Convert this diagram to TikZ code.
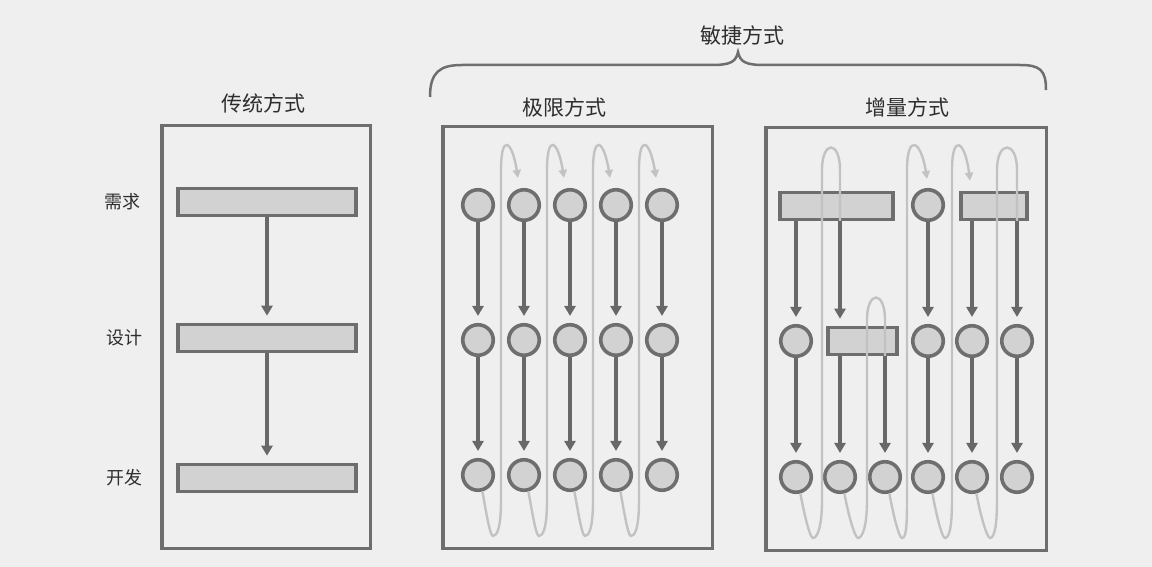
\documentclass[tikz,border=0pt]{standalone}
\usepackage{fontspec}
\setmainfont{Noto Sans CJK SC}
\usetikzlibrary{arrows.meta,calc}
\definecolor{bg}{HTML}{EFEFEF}
\definecolor{framec}{HTML}{6E6E6E}
\definecolor{shade}{HTML}{D2D2D2}
\definecolor{arrowc}{HTML}{686868}
\definecolor{loopc}{HTML}{C2C2C2}
\definecolor{txt}{HTML}{2E2E2E}
\begin{document}
\begin{tikzpicture}[x=1pt,y=-1pt,
  panel/.style={draw=framec, line width=3.5pt, inner sep=0pt},
  bar/.style={draw=framec, line width=3.6pt, fill=shade, inner sep=0pt, minimum height=27pt},
  dot/.style={circle, draw=framec, line width=3.6pt, fill=shade, inner sep=0pt, minimum size=30.5pt},
  flow/.style={draw=arrowc, line width=3.2pt, -{Triangle[width=11pt,length=10pt]}, shorten >=7pt},
  back/.style={draw=loopc, line width=2.4pt},
  backarr/.style={back, -{Triangle[width=8pt,length=8pt]}},
  brace/.style={draw=framec, line width=2.5pt},
  title/.style={text=txt, inner sep=0pt, font=\fontsize{21}{24}\selectfont},
  lab/.style={text=txt, inner sep=0pt, font=\fontsize{18}{20}\selectfont}]

\fill[bg] (0,0) rectangle (1152,567);
\useasboundingbox (0,0) rectangle (1152,567);

% ---------- brace and agile title ----------
\coordinate (bt) at (738,52);
\draw[brace] (430,97) .. controls (430,72) and (440,65) .. (462,65) -- (712,65)
  .. controls (730,65) and (736,62) .. (bt)
  .. controls (740,62) and (746,65) .. (764,65) -- (1020,65)
  .. controls (1040,65) and (1046,70) .. (1046,90);
\node[title] (tAgile) at (742,36) {敏捷方式};

% ---------- panels ----------
\node[panel, minimum width=208.5pt, minimum height=422.5pt] (PL) at (266,337) {};
\node[panel, minimum width=269.5pt, minimum height=421.5pt] (PM) at (577.5,337.5) {};
\node[panel, minimum width=280.5pt, minimum height=422.5pt] (PR) at (906,339) {};
\node[title] (tL) at (263,103) {传统方式};
\node[title] (tM) at (564,107) {极限方式};
\node[title] (tR) at (907,107) {增量方式};

% ---------- traditional ----------
\node[bar, minimum width=177.5pt] (L1) at (267,202) {};
\node[bar, minimum width=177.5pt] (L2) at (267,338) {};
\node[bar, minimum width=177.5pt] (L3) at (267,478) {};
\node[lab] (lReq) at (122,202) {需求};
\node[lab] (lDes) at (124,338) {设计};
\node[lab] (lDev) at (124,478) {开发};
\draw[flow] (L1) -- (L2);
\draw[flow] (L2) -- (L3);

% ---------- extreme (XP) ----------
\foreach \x [count=\i] in {478,524,570,616,662} {
  \node[dot] (m1\i) at (\x,205) {};
  \node[dot] (m2\i) at (\x,340) {};
  \node[dot] (m3\i) at (\x,475) {};
}
\foreach \i/\j/\x in {1/2/478, 2/3/524, 3/4/570, 4/5/616} {
  \draw[backarr] (m3\i.-75) .. controls +(4,22) and +(-3,0) .. ({\x+15},536)
    .. controls +(4,0) and +(0,28) .. ({\x+23},500) -- ({\x+23},170)
    .. controls ({\x+23},133) and ({\x+34},140) .. ($(m1\j.north)+(-6,-10)$);
}
\foreach \i in {1,...,5} {
  \draw[flow] (m1\i) -- (m2\i);
  \draw[flow] (m2\i) -- (m3\i);
}

% ---------- incremental ----------
\node[bar, minimum width=113.5pt] (R1a) at (836.5,206) {};
\node[dot] (r1d) at (928,205) {};
\node[bar, minimum width=66.5pt] (R1e) at (994,206) {};
\node[dot] (r2a) at (796,341) {};
\node[bar, minimum width=69.5pt] (R2b) at (862.5,341) {};
\node[dot] (r2d) at (928,341) {};
\node[dot] (r2e) at (972,341) {};
\node[dot] (r2f) at (1017,341) {};
\foreach \x/\n in {796/a,840/b,885/c,928/d,972/e,1017/f} {
  \node[dot] (r3\n) at (\x,477) {};
}

% feedback loops
\draw[back] (r3a.-75) .. controls +(4,22) and +(-3,0) .. (813,538)
  .. controls +(4,0) and +(0,28) .. (822,500) -- (822,170)
  .. controls (822,140) and (840,140) .. (840,170) -- (R1a.south -| r3b);
\draw[back] (r3b.-75) .. controls +(4,22) and +(-3,0) .. (858,538)
  .. controls +(4,0) and +(0,28) .. (867,500) -- (867,320)
  .. controls (867,290) and (885,290) .. (885,320) -- (R2b.south -| r3c);
\draw[backarr] (r3c.-75) .. controls +(4,22) and +(-3,0) .. (902,538)
  .. controls +(4,0) and +(0,28) .. (907,500) -- (907,170)
  .. controls (907,133) and (921,140) .. ($(r1d.north)+(-1,-9)$);
\draw[backarr] (r3d.-75) .. controls +(4,22) and +(-3,0) .. (945,538)
  .. controls +(4,0) and +(0,28) .. (952,500) -- (952,170)
  .. controls (952,133) and (965,140) .. ($(R1e.north -| r3e)+(-2,-10)$);
\draw[back] (r3e.-75) .. controls +(4,22) and +(-3,0) .. (990,538)
  .. controls +(4,0) and +(0,28) .. (997,500) -- (997,170)
  .. controls (997,140) and (1017,140) .. (1017,170) -- (R1e.south -| r3f);

% flow arrows
\draw[flow] (R1a.south -| r2a) -- (r2a);
\draw[flow] (R1a.south -| r3b) -- (R2b.north -| r3b);
\draw[flow] (r1d) -- (r2d);
\draw[flow] (R1e.south -| r2e) -- (r2e);
\draw[flow] (R1e.south -| r2f) -- (r2f);
\draw[flow] (r2a) -- (r3a);
\draw[flow] (R2b.south -| r3b) -- (r3b);
\draw[flow] (R2b.south -| r3c) -- (r3c);
\draw[flow] (r2d) -- (r3d);
\draw[flow] (r2e) -- (r3e);
\draw[flow] (r2f) -- (r3f);
\end{tikzpicture}
\end{document}
